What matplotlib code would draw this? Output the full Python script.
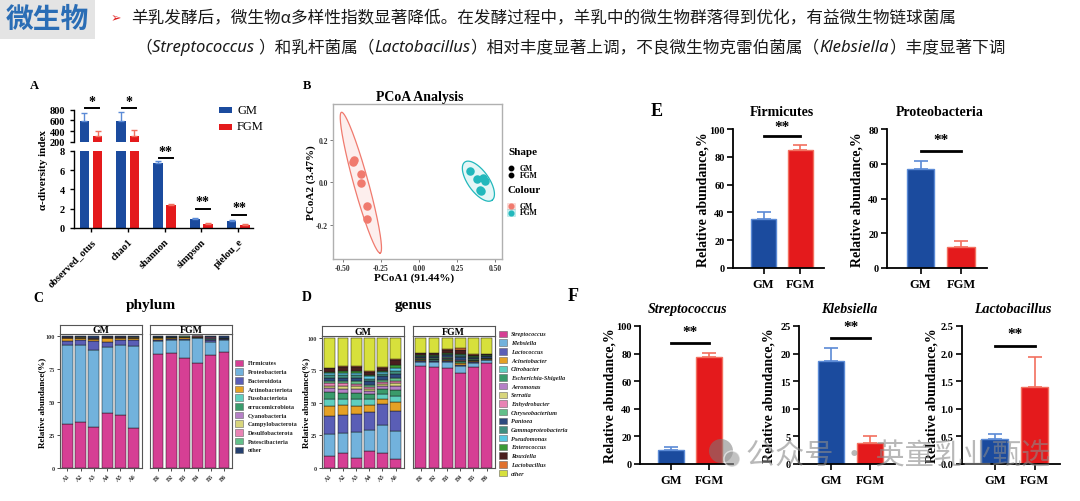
import matplotlib
matplotlib.use("Agg")
import matplotlib.pyplot as plt
import numpy as np
from matplotlib.patches import Rectangle, Circle

W, H = 1080, 502

# ---------------- data ----------------
HEAD_TAG = "微生物"
HEAD_LINE1 = ("羊乳发酵后，微生物α多样性指数显著降低。在发酵过程中，"
              "羊乳中的微生物群落得到优化，有益微生物链球菌属")
HEAD_LINE2 = [("（", False), ("Streptococcus ", True), ("）和乳杆菌属（", False),
              ("Lactobacillus", True), ("）相对丰度显著上调，不良微生物克雷伯菌属（", False),
              ("Klebsiella", True), ("）丰度显著下调", False)]

# panel A: alpha diversity
ALPHA_IDX = ["observed_otus", "chao1", "shannon", "simpson", "pielou_e"]
ALPHA_GM = [586, 598, 6.69, 0.97, 0.76]
ALPHA_GM_ERR = [147, 153, 0.2, 0.03, 0.03]
ALPHA_FGM = [304, 316, 2.38, 0.45, 0.34]
ALPHA_FGM_ERR = [104, 111, 0.06, 0.03, 0.04]
ALPHA_SIG = ["*", "*", "**", "**", "**"]

# panel B: PCoA
GM_PC1 = [-0.434, -0.426, -0.380, -0.380, -0.340, -0.340]
GM_PC2 = [0.094, 0.106, 0.039, -0.003, -0.113, -0.175]
FGM_PC1 = [0.338, 0.384, 0.421, 0.437, 0.404, 0.407]
FGM_PC2 = [0.052, 0.017, 0.019, 0.005, -0.036, -0.042]
GM_ELLIPSE = dict(center=(-0.381, -0.002), u=(0.126, -0.333), v=(0.050, 0.0))
FGM_ELLIPSE = dict(center=(0.391, 0.005), u=(0.090, -0.090), v=(0.055, 0.030))

# panel C: phylum composition (A1..A6 = GM, B1..B6 = FGM)
SAMPLES_GM = ["A1", "A2", "A3", "A4", "A5", "A6"]
SAMPLES_FGM = ["B1", "B2", "B3", "B4", "B5", "B6"]
p_firmicutes = [33.2, 35.0, 31.0, 41.7, 40.4, 30.5, 86.0, 86.8, 83.6, 79.8, 85.3, 88.0]
p_proteo = [59.6, 58.0, 58.6, 49.7, 52.8, 61.6, 10.3, 10.0, 13.4, 18.4, 10.4, 8.6]
p_bactero = [3.4, 3.8, 6.6, 3.7, 3.5, 5.0, 0.9, 0.8, 0.9, 0.6, 0.9, 0.8]
p_actino = [2.0, 1.6, 1.5, 3.2, 1.6, 1.3, 1.4, 1.2, 1.0, 0.4, 0.7, 0.6]
p_fuso = [0.3, 0.2, 0.2, 0.3, 0.3, 0.2, 0.2, 0.2, 0.2, 0.1, 0.2, 0.2]
p_verruco = [0.2, 0.1, 0.1, 0.2, 0.2, 0.1, 0.1, 0.1, 0.1, 0.1, 0.1, 0.1]
p_cyano = [0.2, 0.1, 0.2, 0.2, 0.2, 0.1, 0.1, 0.1, 0.1, 0.1, 0.6, 0.1]
p_campylo = [0.1, 0.1, 0.1, 0.1, 0.1, 0.1, 0.1, 0.1, 0.1, 0.1, 0.1, 0.1]
p_desulfo = [0.1, 0.1, 0.1, 0.1, 0.1, 0.1, 0.2, 0.2, 0.2, 0.1, 0.6, 0.1]
p_patesci = [0.1, 0.1, 0.1, 0.1, 0.1, 0.1, 0.1, 0.1, 0.1, 0.1, 0.1, 0.1]
p_other = [0.8, 0.9, 1.5, 0.7, 0.7, 0.9, 0.6, 0.4, 0.3, 0.2, 1.0, 1.4]
PHYLUM_NAMES = ["Firmicutes", "Proteobacteria", "Bacteroidota", "Actinobacteriota",
                "Fusobacteriota", "errucomicrobiota", "Cyanobacteria", "Campylobacterota",
                "Desulfobacterota", "Patescibacteria", "other"]
PHYLUM_COLORS = ["#d63f94", "#72b2dc", "#5a5eb6", "#e5a125", "#5fcfbf", "#3a9b6c",
                 "#b580c6", "#d8d57c", "#e983b4", "#63c08a", "#25406f"]

# panel D: genus composition
g_strep = [9.0, 11.4, 7.6, 13.2, 11.9, 7.3, 78.8, 77.7, 77.2, 72.7, 77.7, 81.0]
g_kleb = [17.5, 15.2, 20.2, 15.7, 20.8, 21.1, 3.0, 3.8, 4.3, 5.8, 3.3, 1.8]
g_lactococ = [13.8, 13.9, 13.7, 13.9, 16.4, 15.1, 0.6, 0.6, 0.6, 1.0, 0.5, 0.4]
g_acineto = [7.5, 7.9, 6.3, 5.6, 4.1, 6.9, 0.4, 0.4, 0.6, 1.0, 0.4, 0.3]
g_citro = [5.0, 4.8, 5.2, 5.0, 4.0, 5.3, 0.4, 0.4, 0.5, 0.6, 0.4, 0.3]
g_escher = [5.4, 4.6, 4.6, 3.2, 3.4, 4.0, 0.6, 0.6, 0.8, 0.8, 0.6, 0.5]
g_aeromo = [3.0, 3.0, 3.2, 2.4, 2.4, 3.2, 0.2, 0.2, 0.3, 0.4, 0.2, 0.2]
g_serrat = [1.8, 2.0, 2.0, 1.6, 1.6, 2.2, 0.2, 0.2, 0.2, 0.3, 0.2, 0.1]
g_enhydro = [2.0, 2.2, 2.0, 1.6, 1.6, 2.0, 0.1, 0.1, 0.2, 0.3, 0.1, 0.1]
g_chryseo = [1.8, 1.8, 2.0, 1.6, 1.8, 2.4, 0.2, 0.2, 0.4, 0.4, 0.2, 0.2]
g_pantoea = [2.4, 2.6, 2.6, 2.8, 2.4, 3.0, 1.2, 1.4, 1.6, 1.8, 1.2, 1.0]
g_gamma = [2.0, 2.0, 2.2, 2.0, 1.8, 2.4, 0.4, 0.4, 0.6, 1.2, 0.4, 0.3]
g_pseudo = [1.8, 2.0, 1.8, 1.8, 1.4, 2.0, 0.2, 0.2, 0.3, 0.6, 0.2, 0.2]
g_enteroc = [1.2, 1.4, 1.4, 1.2, 1.2, 2.2, 0.6, 0.6, 0.8, 1.0, 0.4, 0.4]
g_rouxiel = [2.4, 3.0, 3.2, 2.4, 2.4, 3.6, 1.4, 1.4, 2.0, 2.6, 1.2, 1.0]
g_lactoba = [0.4, 0.4, 0.6, 0.4, 0.4, 0.8, 0.3, 0.2, 1.2, 2.0, 0.6, 0.2]
g_other = [23.0, 21.8, 21.4, 25.6, 22.4, 16.5, 11.4, 11.6, 8.4, 7.5, 12.4, 12.0]
GENUS_NAMES = ["Streptococcus", "Klebsiella", "Lactococcus", "Acinetobacter", "Citrobacter",
               "Escherichia-Shigella", "Aeromonas", "Serratia", "Enhydrobacter",
               "Chryseobacterium", "Pantoea", "Gammaproteobacteria", "Pseudomonas",
               "Enterococcus", "Rouxiella", "Lactobacillus", "other"]
GENUS_COLORS = ["#d63f94", "#72b2dc", "#5a5eb6", "#e5a125", "#5fcfbf", "#3a9b6c",
                "#b580c6", "#d8d57c", "#e983b4", "#63c08a", "#2c4a7e", "#3e8f80",
                "#56c8e2", "#3a9a36", "#4a1e1e", "#e0702e", "#d7e03c"]

# panels E and F: relative abundance, GM vs FGM
E_TITLES = ["Firmicutes", "Proteobacteria"]
E_MEANS = [[35.3, 85.2], [57.0, 12.0]]
E_ERRS = [[5.0, 3.0], [4.8, 3.5]]
F_TITLES = ["Streptococcus", "Klebsiella", "Lactobacillus"]
F_MEANS = [[10.0, 77.5], [18.6, 3.8], [0.46, 1.40]]
F_ERRS = [[2.5, 2.8], [2.4, 1.2], [0.09, 0.53]]
GROUPS = ["GM", "FGM"]

GM_BLUE, GM_EDGE = "#1b4b9e", "#5b8ad6"
FGM_RED, FGM_EDGE = "#e41a1c", "#f2705f"
SALMON, TEAL = "#f07a6e", "#22b8bc"

plt.rcParams["font.family"] = ["Liberation Serif", "DejaVu Serif"]
plt.rcParams["axes.linewidth"] = 1.0

fig = plt.figure(figsize=(W / 100, H / 100), dpi=100)
fig.patch.set_facecolor("white")


def px_axes(x0, y0, x1, y1, **kw):
    return fig.add_axes([x0 / W, 1 - y1 / H, (x1 - x0) / W, (y1 - y0) / H], **kw)


ov = fig.add_axes([0, 0, 1, 1], zorder=20)
ov.set_xlim(0, W)
ov.set_ylim(H, 0)
ov.axis("off")
renderer = fig.canvas.get_renderer()

# ---------------- header ----------------
CJK = ["Noto Sans CJK SC", "DejaVu Sans"]
ov.add_patch(Rectangle((0, 0), 95, 40, fc="#e4e4e4", ec="none"))
ov.text(47, 20, HEAD_TAG, family=CJK, fontsize=20, fontweight="bold", color="#2a6db5",
        ha="center", va="center")
ov.text(116, 19, "➢", family=["DejaVu Sans"], fontsize=9, color="#e02020",
        ha="center", va="center")
ov.text(131, 19, HEAD_LINE1, family=CJK, fontsize=12, color="#1a1a1a", va="center")
x = 135
for txt, ital in HEAD_LINE2:
    if ital:
        t = ov.text(x, 48, txt, family=["Noto Sans", "DejaVu Sans"], style="italic",
                    fontsize=12, color="#1a1a1a", va="center")
    else:
        t = ov.text(x, 48, txt, family=CJK, fontsize=12, color="#1a1a1a", va="center")
    x += t.get_window_extent(renderer=renderer).width

# ---------------- panel labels ----------------
for lab, (lx, ly, fs) in {"A": (34, 86, 9), "B": (307, 86, 9), "C": (38, 299, 10),
                          "D": (307, 298, 10), "E": (657, 111, 13), "F": (573, 297, 13)}.items():
    ov.text(lx, ly, lab, fontsize=fs, fontweight="bold", ha="center", va="center")

# ---------------- panel A ----------------
cats = np.arange(len(ALPHA_IDX))
off, bw = 0.18, 0.26
ax_up = px_axes(74, 110.7, 253, 143)
ax_lo = px_axes(74, 151.7, 253, 229)
for ax in (ax_up, ax_lo):
    ax.bar(cats - off, ALPHA_GM, bw, color=GM_BLUE)
    ax.bar(cats + off, ALPHA_FGM, bw, color=FGM_RED)
    ax.errorbar(cats - off, ALPHA_GM, yerr=[np.zeros(5), ALPHA_GM_ERR], fmt="none",
                ecolor=GM_EDGE, elinewidth=1, capsize=2.5, capthick=1)
    ax.errorbar(cats + off, ALPHA_FGM, yerr=[np.zeros(5), ALPHA_FGM_ERR], fmt="none",
                ecolor=FGM_EDGE, elinewidth=1, capsize=2.5, capthick=1)
    ax.set_xlim(-0.46, 4.4)
    for s in ("top", "right"):
        ax.spines[s].set_visible(False)
    ax.tick_params(axis="both", labelsize=7.5, length=3, width=1)
ax_up.set_ylim(200, 800)
ax_up.set_yticks([200, 400, 600, 800])
ax_up.spines["bottom"].set_visible(False)
ax_up.set_xticks([])
ax_lo.set_ylim(0, 8)
ax_lo.set_yticks([0, 2, 4, 6, 8])
ax_lo.set_xticks(cats)
ax_lo.set_xticklabels(ALPHA_IDX, rotation=45, ha="right", rotation_mode="anchor",
                      fontsize=7.5, fontweight="bold")
for ax in (ax_up, ax_lo):
    for lbl in ax.get_yticklabels():
        lbl.set_fontweight("bold")
# significance marks
sig_pos = [(ax_up, 832, 960), (ax_up, 832, 960), (ax_lo, 7.27, 7.95),
           (ax_lo, 2.0, 2.75), (ax_lo, 1.37, 2.1)]
for c, (ax, ly, sy) in enumerate(sig_pos):
    ax.plot([c - 0.16, c + 0.22], [ly, ly], color="black", lw=1.4, clip_on=False)
    ax.text(c + 0.03, sy, ALPHA_SIG[c], ha="center", va="center", fontsize=10,
            fontweight="bold", clip_on=False)
ov.text(43, 170, "α-diversity index", rotation=90, fontsize=8, fontweight="bold",
        ha="center", va="center")
ov.add_patch(Rectangle((219, 108), 13, 6, fc=GM_BLUE, ec="none"))
ov.add_patch(Rectangle((219, 124.5), 13, 6, fc=FGM_RED, ec="none"))
ov.text(237, 111, "GM", fontsize=9, va="center")
ov.text(237, 127.5, "FGM", fontsize=9, va="center")

# ---------------- panel B ----------------
axb = px_axes(333, 105, 502, 260)
t = np.linspace(0, 2 * np.pi, 200)
for ell, col in ((GM_ELLIPSE, SALMON), (FGM_ELLIPSE, TEAL)):
    cx, cy = ell["center"]
    ex = cx + ell["u"][0] * np.cos(t) + ell["v"][0] * np.sin(t)
    ey = cy + ell["u"][1] * np.cos(t) + ell["v"][1] * np.sin(t)
    axb.fill(ex, ey, color=col, alpha=0.12, lw=0)
    axb.plot(ex, ey, color=col, lw=0.9)
axb.scatter(GM_PC1, GM_PC2, s=26, color=SALMON, zorder=3)
axb.scatter(FGM_PC1, FGM_PC2, s=26, color=TEAL, zorder=3)
axb.set_xlim(-0.564, 0.546)
axb.set_ylim(-0.363, 0.37)
axb.set_xticks([-0.5, -0.25, 0, 0.25, 0.5])
axb.set_xticklabels(["-0.50", "-0.25", "0.00", "0.25", "0.50"])
axb.set_yticks([-0.2, 0, 0.2])
axb.set_yticklabels(["-0.2", "0.0", "0.2"])
axb.tick_params(labelsize=5.5, length=2, width=0.6, pad=1.5, color="#666666",
                labelcolor="#333333")
for lbl in axb.get_xticklabels() + axb.get_yticklabels():
    lbl.set_fontweight("bold")
for s in axb.spines.values():
    s.set_color("#b0b0b0")
ov.text(420, 97, "PCoA Analysis", fontsize=10, fontweight="bold", ha="center", va="center")
ov.text(414, 278.5, "PCoA1 (91.44%)", fontsize=8, fontweight="bold", ha="center", va="center")
ov.text(311, 183, "PCoA2 (3.47%)", fontsize=8, fontweight="bold", rotation=90,
        ha="center", va="center")
ov.text(508, 152.5, "Shape", fontsize=8, fontweight="bold", va="center")
ov.text(508, 190.5, "Colour", fontsize=8, fontweight="bold", va="center")
for i, g in enumerate(GROUPS):
    yy = 169.3 + i * 6.4
    ov.plot([511], [yy], "o", color="black", ms=3.2)
    ov.text(520, yy, g, fontsize=5.5, fontweight="bold", va="center")
for i, (g, col) in enumerate(zip(GROUPS, (SALMON, TEAL))):
    yy = 206.7 + i * 6.8
    ov.add_patch(Rectangle((507, yy - 3.2), 8, 6.4, fc=col, alpha=0.25, ec=col, lw=0.5))
    ov.plot([511], [yy], "o", color=col, ms=3.4)
    ov.text(520, yy, g, fontsize=5.5, fontweight="bold", va="center")


# ---------------- panels C and D ----------------
def stacked_pair(layers, colors, left, right, strip_y, panel_y):
    xs = np.arange(1, 7)
    for k, ((x0, x1), samples, grp) in enumerate(((left, SAMPLES_GM, "GM"),
                                                  (right, SAMPLES_FGM, "FGM"))):
        ax = px_axes(x0, panel_y[0], x1, panel_y[1])
        bottom = np.zeros(6)
        for vals, col in zip(layers, colors):
            v = np.asarray(vals[k * 6:(k + 1) * 6], float)
            ax.bar(xs, v, 0.82, bottom=bottom, color=col, edgecolor="#1a1a1a", linewidth=0.35)
            bottom += v
        ax.set_xlim(0.4, 6.6)
        ax.set_ylim(0, 101.5)
        for s in ax.spines.values():
            s.set_color("#555555")
            s.set_linewidth(0.8)
        ax.set_xticks(xs)
        ax.set_xticklabels(samples, rotation=45, ha="right", rotation_mode="anchor",
                           fontsize=4.5, fontweight="bold", color="#333333")
        ax.tick_params(length=2, width=0.5, pad=1.5)
        if k == 0:
            ax.set_yticks([0, 25, 50, 75, 100])
            ax.set_yticklabels(["0", "25", "50", "75", "100"], fontsize=4.5,
                               fontweight="bold", color="#333333")
        else:
            ax.set_yticks([])
        sax = px_axes(x0, strip_y[0], x1, strip_y[1])
        sax.set_xticks([])
        sax.set_yticks([])
        for s in sax.spines.values():
            s.set_color("#555555")
            s.set_linewidth(0.8)
        sax.text(0.5, 0.45, grp, transform=sax.transAxes, ha="center", va="center",
                 fontsize=7, fontweight="bold")


PHYLUM = [p_firmicutes, p_proteo, p_bactero, p_actino, p_fuso, p_verruco, p_cyano,
          p_campylo, p_desulfo, p_patesci, p_other]
GENUS = [g_strep, g_kleb, g_lactococ, g_acineto, g_citro, g_escher, g_aeromo, g_serrat,
         g_enhydro, g_chryseo, g_pantoea, g_gamma, g_pseudo, g_enteroc, g_rouxiel,
         g_lactoba, g_other]

stacked_pair(PHYLUM, PHYLUM_COLORS, (59.5, 141.5), (150, 232), (325.5, 335), (335, 469))
stacked_pair(GENUS, GENUS_COLORS, (322, 403.5), (413, 494.5), (327, 337), (337, 469))

ov.text(151, 306, "phylum", fontsize=11, fontweight="bold", ha="center", va="center")
ov.text(413, 306, "genus", fontsize=11, fontweight="bold", ha="center", va="center")
ov.text(42, 403, "Relative abundance(%)", rotation=90, fontsize=6.5, fontweight="bold",
        ha="center", va="center")
ov.text(306, 403, "Relative abundance(%)", rotation=90, fontsize=6.5, fontweight="bold",
        ha="center", va="center")
for i, (name, col) in enumerate(zip(PHYLUM_NAMES, PHYLUM_COLORS)):
    yy = 364 + i * 8.67
    ov.add_patch(Rectangle((235, yy - 3.2), 7.7, 6.4, fc=col, ec="#666666", lw=0.4))
    ov.text(248, yy, name, fontsize=4.5, fontweight="bold", va="center", color="#222222")
for i, (name, col) in enumerate(zip(GENUS_NAMES, GENUS_COLORS)):
    yy = 335 + i * 8.69
    ov.add_patch(Rectangle((499.3, yy - 3.2), 7.5, 6.4, fc=col, ec="#666666", lw=0.4))
    ov.text(511, yy, name, fontsize=4.5, fontweight="bold", style="italic", va="center",
            color="#222222")


# ---------------- panels E and F ----------------
def prism_bar(rect, means, errs, ylim, yticks, yticklabels, sig_y, star_y):
    ax = px_axes(*rect)
    for i, (m, e, fc, ec) in enumerate(zip(means, errs, (GM_BLUE, FGM_RED),
                                           (GM_EDGE, FGM_EDGE))):
        ax.bar(i, m, 0.68, color=fc, edgecolor=ec, linewidth=1)
        ax.errorbar(i, m, yerr=[[0], [e]], fmt="none", ecolor=ec, elinewidth=1.2,
                    capsize=5, capthick=1.2)
    ax.set_xlim(-0.83, 1.64)
    ax.set_ylim(*ylim)
    for s in ("top", "right"):
        ax.spines[s].set_visible(False)
    for s in ("left", "bottom"):
        ax.spines[s].set_linewidth(1.3)
    ax.set_yticks(yticks)
    ax.set_yticklabels(yticklabels, fontsize=7.5, fontweight="bold")
    ax.set_xticks([0, 1])
    ax.set_xticklabels(GROUPS, fontsize=9, fontweight="bold")
    ax.tick_params(length=4, width=1.2)
    ax.tick_params(axis="y", pad=2)
    ax.plot([0, 1], [sig_y, sig_y], color="black", lw=2, clip_on=False)
    ax.text(0.5, star_y, "**", ha="center", va="center", fontsize=11, fontweight="bold",
            clip_on=False)
    # label anchor is its right edge, a little left of the tick labels
    ax.yaxis.set_label_coords(-23.5 / (rect[2] - rect[0]), 0.5)
    ax.set_ylabel("Relative abundance,%", fontsize=10, fontweight="bold")
    return ax


E_RECTS = [(733, 130, 824, 269), (887, 130, 987, 269)]
E_YLIM = [(0, 100), (0, 80)]
E_TICKS = [[0, 20, 40, 60, 80, 100], [0, 20, 40, 60, 80]]
E_SIG = [(95, 102), (67.3, 74)]
E_TITLE_X = [782, 940]
for i in range(2):
    prism_bar(E_RECTS[i], E_MEANS[i], E_ERRS[i], E_YLIM[i], E_TICKS[i],
              [str(v) for v in E_TICKS[i]], *E_SIG[i])
    ov.text(E_TITLE_X[i], 113, E_TITLES[i], fontsize=10, fontweight="bold",
            ha="center", va="center")

F_RECTS = [(640, 327, 733, 465), (799, 327, 895, 465), (962, 327, 1060, 465)]
F_YLIM = [(0, 100), (0, 25), (0, 2.5)]
F_TICKS = [[0, 20, 40, 60, 80, 100], [0, 5, 10, 15, 20, 25], [0, 0.5, 1.0, 1.5, 2.0, 2.5]]
F_TICKLABELS = [[str(v) for v in F_TICKS[0]], [str(v) for v in F_TICKS[1]],
                ["%.1f" % v for v in F_TICKS[2]]]
F_SIG = [(87.7, 96), (22.8, 24.9), (2.14, 2.36)]
F_TITLE_X = [688, 849, 1013]
for i in range(3):
    prism_bar(F_RECTS[i], F_MEANS[i], F_ERRS[i], F_YLIM[i], F_TICKS[i],
              F_TICKLABELS[i], *F_SIG[i])
    ov.text(F_TITLE_X[i], 310, F_TITLES[i], fontsize=10, fontweight="bold",
            style="italic", ha="center", va="center")

# ---------------- watermark ----------------
ov.add_patch(Circle((721, 452), 12, fc="#7a7a7a", ec="none", alpha=0.55))
ov.add_patch(Circle((732, 460), 8, fc="#9a9a9a", ec="white", lw=1, alpha=0.6))
ov.text(746, 457, "公众号 · 英童乳业甄选", family=CJK, fontsize=21, color="#8a8a8a",
        alpha=0.6, va="center")

fig.savefig("out.png", dpi=100, facecolor="white")
